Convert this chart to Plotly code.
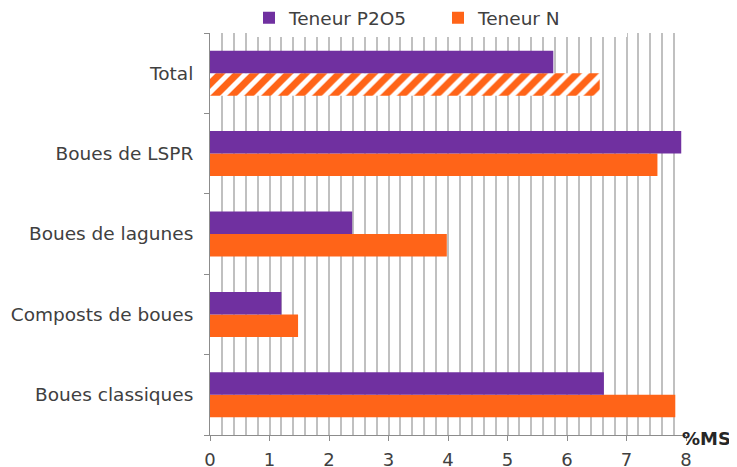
import plotly.graph_objects as go

categories = ["Boues classiques", "Composts de boues", "Boues de lagunes", "Boues de LSPR", "Total"]
teneur_p2o5 = [6.62, 1.20, 2.39, 7.92, 5.77]
teneur_n = [7.82, 1.48, 3.98, 7.52, 6.55]
x_ticks = [0, 1, 2, 3, 4, 5, 6, 7, 8]

PURPLE = "#7030A0"
ORANGE = "#FF6418"
TEXT = "#404040"

fig = go.Figure()
fig.add_trace(go.Bar(
    y=categories, x=teneur_n, orientation="h", name="Teneur N",
    legendrank=2,
    marker=dict(color=ORANGE, line=dict(width=0),
                pattern=dict(shape=["", "", "", "", "/"], fgcolor=ORANGE,
                             bgcolor="white", size=12, solidity=0.58,
                             fillmode="replace", fgopacity=1)),
))
fig.add_trace(go.Bar(
    y=categories, x=teneur_p2o5, orientation="h", name="Teneur P2O5",
    legendrank=1,
    marker=dict(color=PURPLE, line=dict(width=0)),
))

fig.update_layout(
    width=737, height=467,
    margin=dict(l=202, r=59, t=25, b=40, autoexpand=False),
    paper_bgcolor="white", plot_bgcolor="white",
    barmode="group", bargap=0.44, bargroupgap=0,
    font=dict(family="DejaVu Sans, Verdana, sans-serif", size=18, color=TEXT),
    showlegend=True,
    legend=dict(orientation="h", xref="container", yref="paper",
                x=241/737, y=1.037, xanchor="left", yanchor="middle",
                font=dict(size=18.5, color=TEXT), entrywidth=144, entrywidthmode="pixels",
                itemsizing="constant"),
    xaxis=dict(range=[0, 8], tickvals=x_ticks, showgrid=True, gridcolor="#c0c0c0",
               gridwidth=1.5, minor=dict(dtick=0.2, showgrid=True, gridcolor="#c0c0c0",
                                         gridwidth=1.5),
               showline=True, linecolor="#8c8c8c", linewidth=1, ticks="outside",
               ticklen=5, tickcolor="#8c8c8c", zeroline=False,
               tickfont=dict(size=18, color=TEXT), ticklabelstandoff=3),
    yaxis=dict(showline=True, linecolor="#8c8c8c", linewidth=1, ticks="outside",
               tickson="boundaries", ticklen=5, tickcolor="#8c8c8c", showgrid=False,
               tickfont=dict(size=18.5, color=TEXT), ticklabelstandoff=12),
    annotations=[dict(text="<b>%MS</b>", xref="paper", yref="paper", x=1, y=0,
                      xanchor="left", yanchor="middle", xshift=-6, yshift=-3,
                      showarrow=False, font=dict(size=18, color="#262626"))],
)

fig.write_html("out.html")
